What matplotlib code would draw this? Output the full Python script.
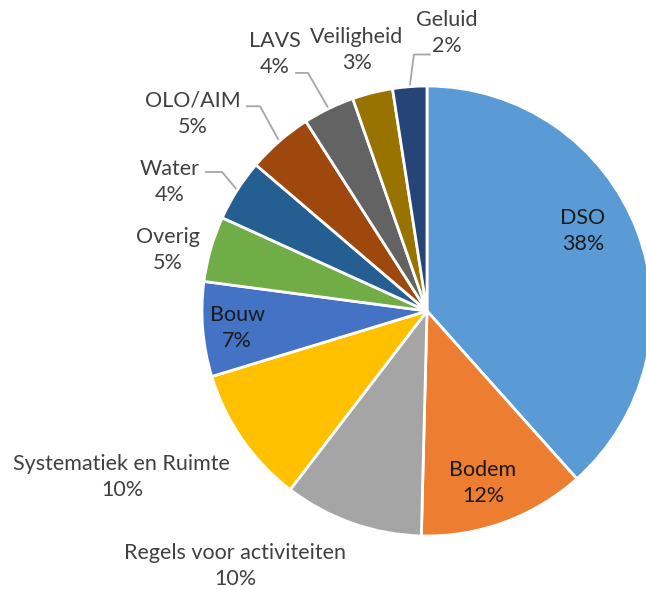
import matplotlib
matplotlib.use("Agg")
import matplotlib.pyplot as plt
import numpy as np

# 数据（按顺时针，从12点开始）
names = ['DSO', 'Bodem', 'Regels voor activiteiten', 'Systematiek en Ruimte', 'Bouw',
         'Overig', 'Water', 'OLO/AIM', 'LAVS', 'Veiligheid', 'Geluid']
values = [38.4, 12.0, 10.0, 9.9, 6.8, 4.7, 4.45, 4.7, 3.7, 2.9, 2.45]
colors = ['#5B9BD5', '#ED7D31', '#A5A5A5', '#FFC000', '#4472C4', '#70AD47',
          '#255E91', '#9E480E', '#636363', '#997300', '#264478']

# 标签位置（坐标系：饼图半径=1）
label_pos = [(0.693, 0.356), (0.249, -0.764), (-0.853, -1.133), (-1.356, -0.738),
             (-0.844, -0.076), (-1.151, 0.271), (-1.142, 0.573), (-1.04, 0.876),
             (-0.676, 1.142), (-0.311, 1.16), (0.089, 1.236)]
inside = {'DSO', 'Bodem', 'Bouw'}
# 引导线：(起点x, 拐点x, y)
leaders = {'Water': (-0.982, -0.911, 0.618),
           'OLO/AIM': (-0.800, -0.742, 0.910),
           'LAVS': (-0.582, -0.529, 1.058),
           'Geluid': (0.013, -0.058, 1.140)}

plt.rcParams['font.family'] = ['Lato', 'DejaVu Sans']

fig = plt.figure(figsize=(6.46, 5.90), dpi=100)
cx, cy, r = 427, 311, 225
ax = fig.add_axes([(cx - r) / 646, (590 - cy - r) / 590, 2 * r / 646, 2 * r / 590])

wedges, _ = ax.pie(values, colors=colors, startangle=90, counterclock=False, radius=1,
                   wedgeprops=dict(edgecolor='white', linewidth=2))
ax.set_xlim(-1, 1)
ax.set_ylim(-1, 1)
ax.set_aspect('equal')
ax.axis('off')

for w, name, v, (x, y) in zip(wedges, names, values, label_pos):
    c = '#1a1a1a' if name in inside else '#404040'
    ax.text(x, y, f"{name}\n{round(v)}%", ha='center', va='center', fontsize=15.5,
            color=c, linespacing=1.4, clip_on=False)
    if name in leaders:
        x0, x1, yl = leaders[name]
        mid = np.radians((w.theta1 + w.theta2) / 2)
        ax.plot([x0, x1, np.cos(mid)], [yl, yl, np.sin(mid)], color='#A6A6A6',
                lw=1.3, clip_on=False, zorder=0)

fig.savefig('out.png', dpi=100)
